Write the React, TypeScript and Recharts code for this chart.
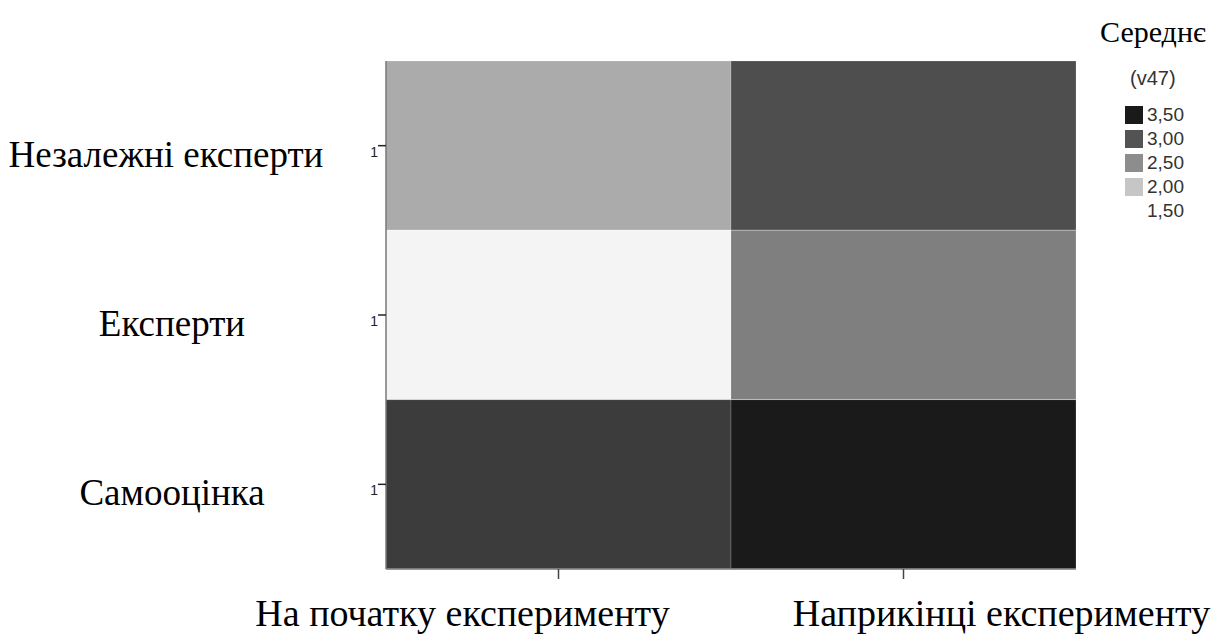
import React from "react";
import { BarChart, Bar, XAxis, YAxis, Cell } from "recharts";

// ---- data ----
const rows = ["Незалежні експерти", "Експерти", "Самооцінка"];
const columns = ["На початку експерименту", "Наприкінці експерименту"];
const startValues = [2.23, 1.6, 3.2];
const endValues = [3.05, 2.62, 3.5];
const legendValues = [3.5, 3.0, 2.5, 2.0, 1.5];
const legendTitle = "Середнє";
const legendSubtitle = "(v47)";
const yStubLabels = ["1", "1", "1"];
const columnTicks = [0.5, 1.5];

// ---- style constants ----
const SERIF = '"Liberation Serif", "Times New Roman", serif';
const SANS = '"Liberation Sans", Arial, sans-serif';
const X_LABEL_SHIFT = [-96, 98];
const Y_LABEL_SHIFT = [-210, -204, -204];
const SCALE_MIN = 1.5;
const SCALE_MAX = 3.5;

const gray = (v: number) => {
  const t = Math.max(0, Math.min(1, (v - SCALE_MIN) / (SCALE_MAX - SCALE_MIN)));
  const g = Math.round(255 - t * 229);
  return `rgb(${g},${g},${g})`;
};

const data = rows.map((r, i) => ({
  row: r,
  start: 1,
  end: 1,
  startVal: startValues[i],
  endVal: endValues[i],
}));

const fmt = (v: number) => v.toFixed(2).replace(".", ",");

const YTick = (props: any) => {
  const { x, y, payload, index } = props;
  return (
    <g>
      <text x={x + 2} y={y + 11} textAnchor="end" fontFamily={SANS} fontSize={14} fill="#222">
        {yStubLabels[index] ?? ""}
      </text>
      <text x={x + (Y_LABEL_SHIFT[index] ?? -204)} y={y + 21} textAnchor="middle" fontFamily={SERIF} fontSize={37} fill="#000">
        {payload.value}
      </text>
    </g>
  );
};

const XTick = (props: any) => {
  const { x, y, index } = props;
  return (
    <text x={x + (X_LABEL_SHIFT[index] ?? 0)} y={y + 45} textAnchor="middle" fontFamily={SERIF} fontSize={38} fill="#000">
      {columns[index]}
    </text>
  );
};

const ColorLegend = () => (
  <div style={{ position: "absolute", left: 1090, top: 0, width: 134, height: 240, pointerEvents: "none" }}>
    <div style={{ position: "absolute", left: 10, top: 17, fontFamily: SERIF, fontSize: 30, color: "#000", whiteSpace: "nowrap", lineHeight: "30px" }}>
      {legendTitle}
    </div>
    <div style={{ position: "absolute", left: 40, top: 66, fontFamily: SANS, fontSize: 20, color: "#333", lineHeight: "24px", whiteSpace: "nowrap" }}>
      {legendSubtitle}
    </div>
    {legendValues.map((v, i) => (
      <div key={v} style={{ position: "absolute", left: 35, top: 103 + i * 24, display: "flex", alignItems: "center", height: 24 }}>
        <div style={{ width: 18, height: 18, background: gray(v), marginRight: 4 }} />
        <span style={{ fontFamily: SANS, fontSize: 19, color: "#333", lineHeight: "24px", whiteSpace: "nowrap" }}>{fmt(v)}</span>
      </div>
    ))}
  </div>
);

export default function App() {
  return (
    <div style={{ position: "absolute", left: 0, top: 0, width: 1224, height: 643, background: "#fff", overflow: "hidden" }}>
      <BarChart
        width={1224}
        height={643}
        data={data}
        layout="vertical"
        margin={{ top: 61, right: 148, bottom: 0, left: 0 }}
        barCategoryGap={0}
      >
        <XAxis
          type="number"
          domain={[0, 2]}
          ticks={columnTicks}
          height={74}
          tickSize={10}
          axisLine={{ stroke: "#777", strokeWidth: 1.5 }}
          tickLine={{ stroke: "#444", strokeWidth: 1.5 }}
          tick={<XTick />}
          interval={0}
        />
        <YAxis
          type="category"
          dataKey="row"
          width={386}
          tickSize={8}
          axisLine={{ stroke: "#777", strokeWidth: 1.5 }}
          tickLine={{ stroke: "#222", strokeWidth: 1.5 }}
          tick={<YTick />}
          interval={0}
        />
        <Bar dataKey="start" stackId="a" isAnimationActive={false} stroke="rgba(255,255,255,0.18)" strokeWidth={1}>
          {data.map((d, i) => (
            <Cell key={`s${i}`} fill={gray(d.startVal)} />
          ))}
        </Bar>
        <Bar dataKey="end" stackId="a" isAnimationActive={false} stroke="rgba(255,255,255,0.18)" strokeWidth={1}>
          {data.map((d, i) => (
            <Cell key={`e${i}`} fill={gray(d.endVal)} />
          ))}
        </Bar>
      </BarChart>
      <ColorLegend />
    </div>
  );
}
